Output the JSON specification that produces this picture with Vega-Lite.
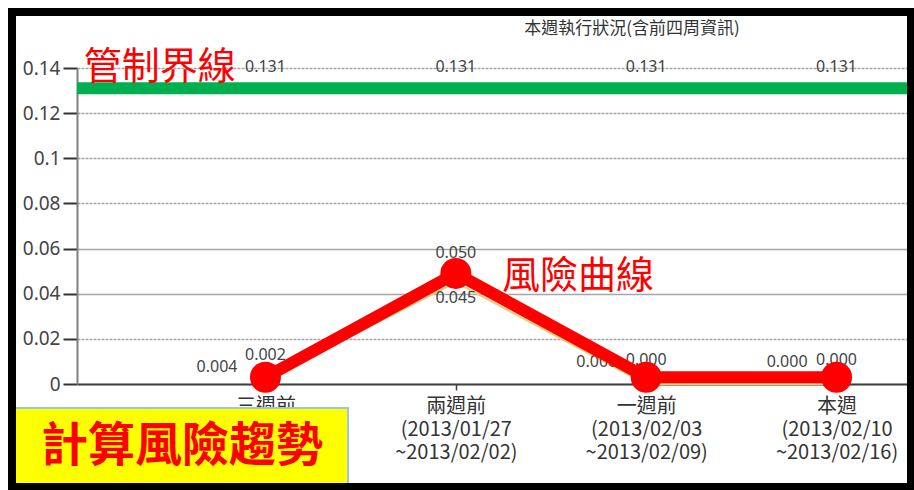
{
  "$schema": "https://vega.github.io/schema/vega-lite/v6.json",
  "width": 830,
  "height": 316,
  "autosize": {"type": "none"},
  "padding": {"left": 77, "top": 68, "right": 7, "bottom": 106},
  "background": "white",
  "config": {"view": {"stroke": null}, "font": "Noto Sans CJK TC"},
  "datasets": {
    "series": [
      {"idx": 1, "week": "三週前", "series": "A", "value": 0.004},
      {"idx": 2, "week": "兩週前", "series": "A", "value": 0.050},
      {"idx": 3, "week": "一週前", "series": "A", "value": 0.000},
      {"idx": 4, "week": "本週", "series": "A", "value": 0.000},
      {"idx": 1, "week": "三週前", "series": "B", "value": 0.002},
      {"idx": 2, "week": "兩週前", "series": "B", "value": 0.045},
      {"idx": 3, "week": "一週前", "series": "B", "value": 0.000},
      {"idx": 4, "week": "本週", "series": "B", "value": 0.000}
    ],
    "limit": [
      {"idx": 1, "week": "三週前", "value": 0.131},
      {"idx": 2, "week": "兩週前", "value": 0.131},
      {"idx": 3, "week": "一週前", "value": 0.131},
      {"idx": 4, "week": "本週", "value": 0.131}
    ],
    "risk": [
      {"idx": 1, "week": "三週前", "value": 0.003},
      {"idx": 2, "week": "兩週前", "value": 0.049},
      {"idx": 3, "week": "一週前", "value": 0.003},
      {"idx": 4, "week": "本週", "value": 0.003}
    ]
  },
  "layer": [
    {
      "data": {"name": "series"},
      "mark": {"type": "line", "color": "#e3cf78", "strokeWidth": 2},
      "encoding": {
        "x": {
          "field": "idx", "type": "quantitative", "title": null,
          "scale": {"domain": [0.01, 4.37], "nice": false, "zero": false},
          "axis": {
            "values": [1, 2, 3, 4],
            "labelExpr": "datum.value == 1 ? ['三週前','(2013/01/20','~2013/01/26)'] : datum.value == 2 ? ['兩週前','(2013/01/27','~2013/02/02)'] : datum.value == 3 ? ['一週前','(2013/02/03','~2013/02/09)'] : ['本週','(2013/02/10','~2013/02/16)']",
            "grid": false,
            "domainColor": "#404040", "domainWidth": 2,
            "tickColor": "#404040", "tickSize": 6, "tickWidth": 1.5,
            "labelFontSize": 20, "labelLineHeight": 23, "labelPadding": 6,
            "labelColor": "#333333", "labelFlush": false, "labelOverlap": false,
            "labelFont": "Noto Sans CJK TC"
          }
        },
        "y": {
          "field": "value", "type": "quantitative", "title": null,
          "scale": {"domain": [0, 0.14], "nice": false},
          "axis": {
            "values": [0, 0.02, 0.04, 0.06, 0.08, 0.1, 0.12, 0.14],
            "format": ".2~f",
            "domainColor": "#808080", "domainWidth": 2,
            "tickColor": "#333333", "tickSize": 14, "tickWidth": 2,
            "labelPadding": 3, "labelFontSize": 19, "labelColor": "#444444",
            "labelFont": "Noto Sans",
            "grid": true, "gridColor": "#a6a6a6", "gridWidth": 1.5,
            "gridDash": {"condition": {"test": "datum.value == 0.04 || datum.value == 0.06", "value": []}, "value": [3, 1]}
          }
        },
        "detail": {"field": "series"}
      }
    },
    {
      "data": {"name": "limit"},
      "transform": [{"filter": "datum.idx == 1"}],
      "mark": {"type": "rule", "color": "#00b050", "strokeWidth": 12},
      "encoding": {"y": {"field": "value", "type": "quantitative", "title": null}}
    },
    {
      "data": {"name": "limit"},
      "mark": {"type": "text", "fontSize": 16, "color": "#444444", "dy": -21, "baseline": "middle", "align": "center", "font": "Noto Sans"},
      "encoding": {
        "x": {"field": "idx", "type": "quantitative", "title": null},
        "y": {"field": "value", "type": "quantitative", "title": null},
        "text": {"field": "value", "type": "quantitative", "format": ".3f"}
      }
    },
    {
      "data": {"name": "series"},
      "transform": [{"filter": "datum.series == 'A' && datum.idx == 1"}],
      "mark": {"type": "text", "fontSize": 16, "color": "#444444", "dx": -28, "dy": -8, "baseline": "middle", "align": "right", "font": "Noto Sans"},
      "encoding": {
        "x": {"field": "idx", "type": "quantitative", "title": null},
        "y": {"field": "value", "type": "quantitative", "title": null},
        "text": {"field": "value", "type": "quantitative", "format": ".3f"}
      }
    },
    {
      "data": {"name": "series"},
      "transform": [{"filter": "datum.series == 'A' && datum.idx >= 3"}],
      "mark": {"type": "text", "fontSize": 16, "color": "#444444", "dx": -29, "dy": -22, "baseline": "middle", "align": "right", "font": "Noto Sans"},
      "encoding": {
        "x": {"field": "idx", "type": "quantitative", "title": null},
        "y": {"field": "value", "type": "quantitative", "title": null},
        "text": {"field": "value", "type": "quantitative", "format": ".3f"}
      }
    },
    {
      "data": {"name": "series"},
      "transform": [{"filter": "datum.series == 'A' && datum.idx == 2"}],
      "mark": {"type": "text", "fontSize": 16, "color": "#444444", "dy": -18, "baseline": "middle", "align": "center", "font": "Noto Sans"},
      "encoding": {
        "x": {"field": "idx", "type": "quantitative", "title": null},
        "y": {"field": "value", "type": "quantitative", "title": null},
        "text": {"field": "value", "type": "quantitative", "format": ".3f"}
      }
    },
    {
      "data": {"name": "series"},
      "transform": [{"filter": "datum.series == 'B' && datum.idx != 2"}],
      "mark": {"type": "text", "fontSize": 16, "color": "#444444", "dy": -24, "baseline": "middle", "align": "center", "font": "Noto Sans"},
      "encoding": {
        "x": {"field": "idx", "type": "quantitative", "title": null},
        "y": {"field": "value", "type": "quantitative", "title": null},
        "text": {"field": "value", "type": "quantitative", "format": ".3f"}
      }
    },
    {
      "data": {"name": "series"},
      "transform": [{"filter": "datum.series == 'B' && datum.idx == 2"}],
      "mark": {"type": "text", "fontSize": 16, "color": "#444444", "dy": 16, "baseline": "middle", "align": "center", "font": "Noto Sans"},
      "encoding": {
        "x": {"field": "idx", "type": "quantitative", "title": null},
        "y": {"field": "value", "type": "quantitative", "title": null},
        "text": {"field": "value", "type": "quantitative", "format": ".3f"}
      }
    },
    {
      "data": {"name": "risk"},
      "mark": {"type": "line", "color": "#ff0000", "strokeWidth": 12},
      "encoding": {
        "x": {"field": "idx", "type": "quantitative", "title": null},
        "y": {"field": "value", "type": "quantitative", "title": null}
      }
    },
    {
      "data": {"name": "risk"},
      "mark": {"type": "circle", "color": "#ff0000", "size": 962, "opacity": 1},
      "encoding": {
        "x": {"field": "idx", "type": "quantitative", "title": null},
        "y": {"field": "value", "type": "quantitative", "title": null}
      }
    },
    {
      "data": {"values": [{"label": "本週執行狀況(含前四周資訊)"}]},
      "mark": {"type": "text", "fontSize": 17, "color": "#333333", "align": "center", "baseline": "middle", "font": "Noto Sans CJK TC"},
      "encoding": {
        "x": {"datum": 2.9254, "type": "quantitative"},
        "y": {"datum": 0.1573, "type": "quantitative"},
        "text": {"field": "label"}
      }
    },
    {
      "data": {"values": [{"label": "管制界線"}]},
      "mark": {"type": "text", "fontSize": 38, "color": "#ff0000", "align": "left", "baseline": "middle", "font": "Noto Sans CJK TC"},
      "encoding": {
        "x": {"datum": 0.045, "type": "quantitative"},
        "y": {"datum": 0.14, "type": "quantitative"},
        "text": {"field": "label"}
      }
    },
    {
      "data": {"values": [{"label": "風險曲線"}]},
      "mark": {"type": "text", "fontSize": 38, "color": "#ff0000", "align": "left", "baseline": "middle", "font": "Noto Sans CJK TC"},
      "encoding": {
        "x": {"datum": 2.243, "type": "quantitative"},
        "y": {"datum": 0.0472, "type": "quantitative"},
        "text": {"field": "label"}
      }
    },
    {
      "data": {"values": [{"label": "box"}]},
      "mark": {"type": "rect", "fill": "#ffff00", "stroke": "#9dc3e6", "strokeWidth": 2},
      "encoding": {
        "x": {"datum": -0.3157, "type": "quantitative"},
        "x2": {"datum": 1.4336},
        "y": {"datum": -0.01063, "type": "quantitative"},
        "y2": {"datum": -0.0452}
      }
    },
    {
      "data": {"values": [{"label": "計算風險趨勢"}]},
      "mark": {"type": "text", "fontSize": 47, "fontWeight": "bold", "color": "#ff0000", "align": "center", "baseline": "middle", "font": "Noto Sans CJK TC"},
      "encoding": {
        "x": {"datum": 0.5616, "type": "quantitative"},
        "y": {"datum": -0.02813, "type": "quantitative"},
        "text": {"field": "label"}
      }
    },
    {
      "data": {"values": [{"label": "frame"}]},
      "mark": {"type": "rect", "fillOpacity": 0, "stroke": "#000000", "strokeWidth": 8},
      "encoding": {
        "x": {"datum": -0.3314, "type": "quantitative"},
        "x2": {"datum": 4.391},
        "y": {"datum": 0.16481, "type": "quantitative"},
        "y2": {"datum": -0.04563}
      }
    }
  ]
}
